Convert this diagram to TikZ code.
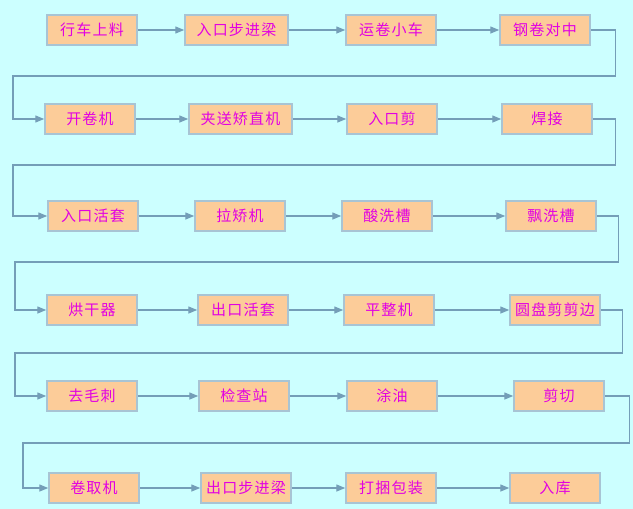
\documentclass[tikz,border=0pt]{standalone}
\usepackage{fontspec}
\newfontfamily\cjk{Noto Sans CJK SC}[LetterSpace=8]
\usetikzlibrary{arrows.meta}

\definecolor{bgcyan}{RGB}{204,255,255}
\definecolor{boxfill}{RGB}{252,204,153}
\definecolor{boxline}{RGB}{168,196,212}
\definecolor{flowline}{RGB}{116,158,184}
\definecolor{txtpink}{RGB}{226,0,226}

\tikzset{
  stage/.style={draw=boxline, line width=1.5pt, fill=boxfill, minimum width=90pt, minimum height=30pt,
    inner sep=0pt, text=txtpink, font=\cjk\fontsize{15}{15}\selectfont},
  widestage/.style={stage, minimum width=103pt},
  flow/.style={draw=flowline, line width=1.4pt, -{Triangle[length=9pt,width=7pt]}},
}

\begin{document}
\begin{tikzpicture}[x=1pt, y=-1pt]

% background
\fill [bgcyan] (0,0) rectangle (633,509);

% row 1
\node (shangliao) [stage] at (92,30) {行车上料};
\node (rukoubj) [widestage] at (236.5,30) {入口步进梁};
\node (yunjuan) [stage] at (391,30) {运卷小车};
\node (duizhong) [stage] at (545,30) {钢卷对中};

% row 2
\node (kaijuan) [stage] at (90,119) {开卷机};
\node (jiaosong) [widestage] at (240.5,119) {夹送矫直机};
\node (rukoujian) [stage] at (392,119) {入口剪};
\node (hanjie) [stage] at (547,119) {焊接};

% row 3
\node (rukouht) [stage] at (93,216) {入口活套};
\node (lajiao) [stage] at (240,216) {拉矫机};
\node (suanxi) [stage] at (387,216) {酸洗槽};
\node (piaoxi) [stage] at (551,216) {飘洗槽};

% row 4
\node (honggan) [stage] at (92,310) {烘干器};
\node (chukouht) [stage] at (243,310) {出口活套};
\node (pingzheng) [stage] at (389,310) {平整机};
\node (yuanpan) [stage] at (555,310) {圆盘剪剪边};

% row 5
\node (qumaoci) [stage] at (92,396) {去毛刺};
\node (jiancha) [stage] at (244,396) {检查站};
\node (tuyou) [stage] at (392,396) {涂油};
\node (jianqie) [stage] at (559,396) {剪切};

% row 6
\node (juanqu) [stage] at (94,488) {卷取机};
\node (chukoubj) [stage] at (246,488) {出口步进梁};
\node (dakun) [stage] at (391,488) {打捆包装};
\node (ruku) [stage] at (555,488) {入库};

% straight arrows
\draw [flow] (shangliao) -- (rukoubj);
\draw [flow] (rukoubj) -- (yunjuan);
\draw [flow] (yunjuan) -- (duizhong);
\draw [flow] (kaijuan) -- (jiaosong);
\draw [flow] (jiaosong) -- (rukoujian);
\draw [flow] (rukoujian) -- (hanjie);
\draw [flow] (rukouht) -- (lajiao);
\draw [flow] (lajiao) -- (suanxi);
\draw [flow] (suanxi) -- (piaoxi);
\draw [flow] (honggan) -- (chukouht);
\draw [flow] (chukouht) -- (pingzheng);
\draw [flow] (pingzheng) -- (yuanpan);
\draw [flow] (qumaoci) -- (jiancha);
\draw [flow] (jiancha) -- (tuyou);
\draw [flow] (tuyou) -- (jianqie);
\draw [flow] (juanqu) -- (chukoubj);
\draw [flow] (chukoubj) -- (dakun);
\draw [flow] (dakun) -- (ruku);

% wrap-around lines
\draw [flow] (duizhong.east) -- ++(25,0) |- (13,76) |- (kaijuan.west);
\draw [flow] (hanjie.east) -- ++(23,0) |- (13,165) |- (rukouht.west);
\draw [flow] (piaoxi.east) -- ++(22,0) |- (15,262) |- (honggan.west);
\draw [flow] (yuanpan.east) -- ++(22,0) |- (15,353) |- (qumaoci.west);
\draw [flow] (jianqie.east) -- ++(25,0) |- (23,443) |- (juanqu.west);

\end{tikzpicture}
\end{document}
